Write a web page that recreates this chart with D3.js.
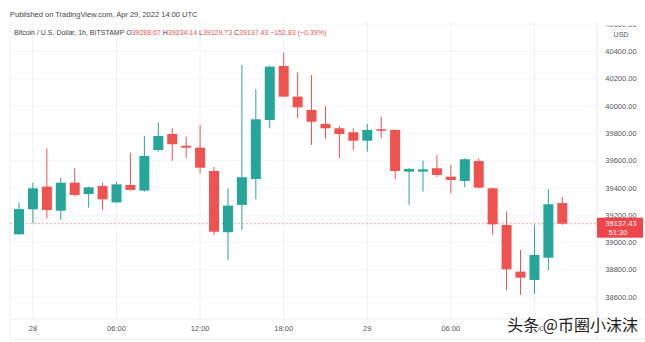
<!DOCTYPE html>
<html>
<head>
<meta charset="utf-8">
<script src="https://cdn.jsdelivr.net/npm/d3@7"></script>
<style>
  body { margin: 0; background: #fff; }
  text { font-family: "Liberation Sans", Arial, sans-serif; }
</style>
</head>
<body>
<div id="chart"></div>
<script>
// hourly candles, Apr 27 23:00 UTC -> Apr 29 14:00 UTC
var startTime = Date.UTC(2022, 3, 27, 23);
var opens  = [39060, 39243, 39409, 39233, 39438, 39355, 39414, 39294, 39421, 39380,
              39678, 39795, 39709, 39695, 39524, 39075, 39275, 39465, 39898, 40294,
              40069, 39971, 39869, 39837, 39808, 39746, 39830, 39825, 39519, 39519,
              39544, 39482, 39451, 39597, 39397, 39128, 38786, 38725, 38888, 39288.67];
var highs  = [39294, 39438, 39690, 39475, 39544, 39409, 39438, 39445, 39658, 39781,
              39878, 39837, 39775, 39861, 39555, 39397, 40301, 40123, 40295, 40391,
              40245, 40228, 40000, 39854, 39837, 39869, 39922, 39830, 39545, 39600,
              39641, 39568, 39617, 39617, 39402, 39226, 38945, 39128, 39390, 39334.14];
var lows   = [39055, 39141, 39177, 39165, 39336, 39255, 39238, 39290, 39380, 39372,
              39665, 39597, 39617, 39507, 39055, 38871, 39091, 39316, 39837, 40065,
              39910, 39715, 39759, 39617, 39678, 39665, 39764, 39463, 39275, 39372,
              39478, 39360, 39404, 39395, 39055, 38652, 38615, 38622, 38798, 39129.73];
var closes = [39245, 39397, 39238, 39438, 39348, 39404, 39316, 39426, 39385, 39634,
              39781, 39720, 39695, 39548, 39079, 39270, 39478, 39903, 40289, 40069,
              39991, 39885, 39837, 39795, 39746, 39825, 39825, 39524, 39539, 39536,
              39495, 39458, 39610, 39402, 39133, 38803, 38742, 38908, 39280, 39137.43];
var priceTicks = [38600, 38800, 39000, 39200, 39400, 39600, 39800, 40000, 40200, 40400, 40600];
var timeTicks = [Date.UTC(2022, 3, 28, 0), Date.UTC(2022, 3, 28, 6), Date.UTC(2022, 3, 28, 12),
                 Date.UTC(2022, 3, 28, 18), Date.UTC(2022, 3, 29, 0), Date.UTC(2022, 3, 29, 6),
                 Date.UTC(2022, 3, 29, 12)];
var timeLabels = ["28", "06:00", "12:00", "18:00", "29", "06:00", "12:00"];
var lastPrice = 39137.43;

var width = 645, height = 342;
var plot = {left: 10, right: 597, top: 22, bottom: 319};
var up = "#26a69a", down = "#ef5350";

var data = opens.map(function(o, i) {
  return {t: new Date(startTime + i * 3600000), o: o, h: highs[i], l: lows[i], c: closes[i]};
});

var x = d3.scaleUtc()
    .domain([new Date(startTime), new Date(startTime + 39 * 3600000)])
    .range([19, 562.3]);
var y = d3.scaleLinear()
    .domain([38600, 40400])
    .range([297, 51.5]);

var svg = d3.select("#chart").append("svg")
    .attr("width", width)
    .attr("height", height);

svg.append("defs").append("clipPath").attr("id", "axisclip")
  .append("rect").attr("x", plot.right).attr("y", 25.5)
  .attr("width", width - plot.right).attr("height", plot.bottom - 25.5);

// grid
svg.append("g").selectAll("line").data(priceTicks).enter().append("line")
    .attr("x1", plot.left).attr("x2", plot.right)
    .attr("y1", function(d) { return y(d); }).attr("y2", function(d) { return y(d); })
    .attr("stroke", "#f4f5f8").attr("stroke-width", 1);
svg.append("g").selectAll("line").data(timeTicks).enter().append("line")
    .attr("x1", function(d) { return x(d); }).attr("x2", function(d) { return x(d); })
    .attr("y1", plot.top).attr("y2", plot.bottom)
    .attr("stroke", "#f0f1f4").attr("stroke-width", 1);

// frame
svg.append("line").attr("x1", plot.left).attr("x2", plot.left).attr("y1", plot.top).attr("y2", 339)
    .attr("stroke", "#eceef2");
svg.append("line").attr("x1", plot.right).attr("x2", plot.right).attr("y1", plot.top).attr("y2", 339)
    .attr("stroke", "#e6e8ec");
svg.append("line").attr("x1", plot.left).attr("x2", width).attr("y1", plot.bottom).attr("y2", plot.bottom)
    .attr("stroke", "#eceef2");
svg.append("line").attr("x1", plot.left).attr("x2", width).attr("y1", 339).attr("y2", 339)
    .attr("stroke", "#eceef2");

// last price dotted line
svg.append("line")
    .attr("x1", plot.left).attr("x2", plot.right)
    .attr("y1", y(lastPrice)).attr("y2", y(lastPrice))
    .attr("stroke", down).attr("stroke-opacity", 0.7)
    .attr("stroke-dasharray", "1.5,2.5");

// candles
var bw = 10;
var candles = svg.append("g").selectAll("g").data(data).enter().append("g");
candles.append("line")
    .attr("x1", function(d) { return x(d.t); }).attr("x2", function(d) { return x(d.t); })
    .attr("y1", function(d) { return y(d.h); }).attr("y2", function(d) { return y(d.l); })
    .attr("stroke", function(d) { return d.c >= d.o ? up : down; })
    .attr("stroke-width", 1);
candles.append("rect")
    .attr("x", function(d) { return x(d.t) - bw / 2; })
    .attr("width", bw)
    .attr("y", function(d) { return y(Math.max(d.o, d.c)); })
    .attr("height", function(d) { return Math.max(1.5, Math.abs(y(d.o) - y(d.c))); })
    .attr("fill", function(d) { return d.c >= d.o ? up : down; });

// price axis
var ax = svg.append("g").attr("clip-path", "url(#axisclip)");
ax.selectAll("text").data(priceTicks).enter().append("text")
    .attr("x", 621).attr("y", function(d) { return y(d); })
    .attr("dy", "0.35em")
    .attr("text-anchor", "middle")
    .style("font-size", "7.5px").style("fill", "#555")
    .text(function(d) { return d3.format(".2f")(d); });
svg.append("rect").attr("x", 612).attr("y", 29).attr("width", 18).attr("height", 10)
    .attr("fill", "#fff").attr("stroke", "#dadde3").attr("stroke-width", 0.6).attr("rx", 1);
svg.append("text").attr("x", 621).attr("y", 36.5).attr("text-anchor", "middle")
    .style("font-size", "7px").style("fill", "#555").text("USD");

// last price label
var ly = y(lastPrice);
svg.append("rect").attr("x", 597).attr("y", ly - 6).attr("width", 46).attr("height", 20)
    .attr("fill", "#f0454a");
svg.append("text").attr("x", 621).attr("y", ly).attr("dy", "0.35em").attr("text-anchor", "middle")
    .style("font-size", "7.5px").style("fill", "#fff").text(d3.format(".2f")(lastPrice));
svg.append("text").attr("x", 618).attr("y", ly + 9).attr("dy", "0.35em").attr("text-anchor", "middle")
    .style("font-size", "7.5px").style("fill", "#fff").text("51:30");

// time axis
svg.append("g").selectAll("text").data(timeTicks).enter().append("text")
    .attr("x", function(d) { return x(d); }).attr("y", 330.5)
    .attr("text-anchor", "middle")
    .style("font-size", "7.5px").style("fill", "#555")
    .text(function(d, i) { return timeLabels[i]; });

// header
svg.append("text").attr("x", 10).attr("y", 17)
    .style("font-size", "7.5px").style("fill", "#444")
    .text("Published on TradingView.com, Apr 29, 2022 14:00 UTC");
var hdr = svg.append("text").attr("x", 14).attr("y", 35).style("font-size", "7px");
hdr.append("tspan").style("fill", "#444").text("Bitcoin / U.S. Dollar, 1h, BITSTAMP  O");
hdr.append("tspan").style("fill", down).text("39288.67");
hdr.append("tspan").style("fill", "#444").text("  H");
hdr.append("tspan").style("fill", down).text("39334.14");
hdr.append("tspan").style("fill", "#444").text("  L");
hdr.append("tspan").style("fill", down).text("39129.73");
hdr.append("tspan").style("fill", "#444").text("  C");
hdr.append("tspan").style("fill", down).text("39137.43  −152.83 (−0.39%)");

// watermark (covers the 12:00 label as in the source image)
svg.append("text").attr("x", 638).attr("y", 331).attr("text-anchor", "end")
    .style("font-family", "'Noto Sans CJK SC', sans-serif")
    .style("font-size", "16px").style("fill", "#222")
    .style("stroke", "#fff").style("stroke-width", 2).style("paint-order", "stroke")
    .text("头条 @币圈小沫沫");
</script>
</body>
</html>
